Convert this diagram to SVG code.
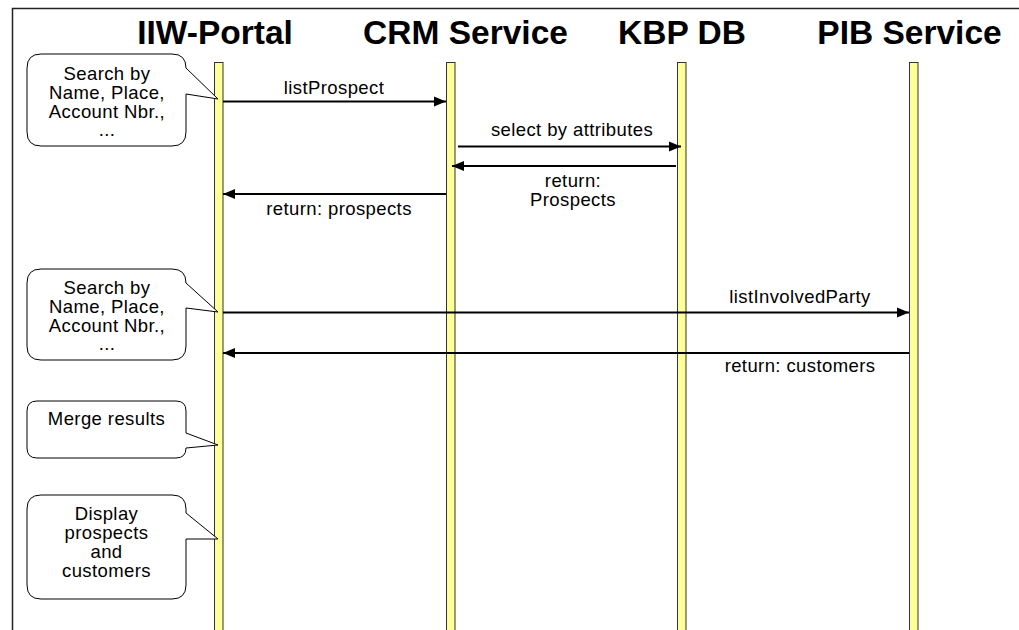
<svg xmlns="http://www.w3.org/2000/svg" width="1019" height="630" viewBox="0 0 1019 630">
<style>
.title{font-family:"Liberation Sans",Arial,sans-serif;font-weight:bold;font-size:33.5px;text-anchor:middle;fill:#000}
.lbl{font-family:"Liberation Sans",Arial,sans-serif;font-size:18.5px;letter-spacing:0.4px;text-anchor:middle;fill:#000}
.life{fill:#ffff99;stroke:#333;stroke-width:1}
.call{fill:#fff;stroke:#000;stroke-width:1}
.msg{stroke:#000;stroke-width:2;fill:none;marker-end:url(#ah)}
.frame{stroke:#222;stroke-width:1.5;fill:none}
</style>
<defs>
<marker id="ah" markerUnits="userSpaceOnUse" markerWidth="13" markerHeight="11" refX="12" refY="5.5" orient="auto">
<path d="M0,0.5 L12,5.5 L0,10.5 Z" fill="#000"/>
</marker>
</defs>
<rect width="1019" height="630" fill="#fff"/>
<path class="frame" d="M12.5,630 V8.5 H1019"/>
<g id="iiw-portal">
<text class="title" x="215" y="43.5">IIW-Portal</text>
<rect class="life" x="214.5" y="62.5" width="8.5" height="580"/>
</g>
<g id="crm-service">
<text class="title" x="465.5" y="43.5">CRM Service</text>
<rect class="life" x="446.5" y="62.5" width="8.5" height="580"/>
</g>
<g id="kbp-db">
<text class="title" x="682" y="43.5">KBP DB</text>
<rect class="life" x="677.5" y="62.5" width="8.5" height="580"/>
</g>
<g id="pib-service">
<text class="title" x="909.5" y="43.5">PIB Service</text>
<rect class="life" x="909.5" y="62.5" width="8.5" height="580"/>
</g>
<g id="note-search-1">
<path class="call" d="M41,54 H172 Q186,54 186,68 L218,99 L186,94 V132 Q186,146 172,146 H41 Q27,146 27,132 V68 Q27,54 41,54 Z"/>
<text class="lbl" x="107" y="80">Search by</text>
<text class="lbl" x="107" y="99">Name, Place,</text>
<text class="lbl" x="107" y="117.5">Account Nbr.,</text>
<text class="lbl" x="107" y="136">...</text>
</g>
<g id="note-search-2">
<path class="call" d="M41,269 H172 Q186,269 186,283 L218,312 L186,308 V346 Q186,360 172,360 H41 Q27,360 27,346 V283 Q27,269 41,269 Z"/>
<text class="lbl" x="107" y="294">Search by</text>
<text class="lbl" x="107" y="313">Name, Place,</text>
<text class="lbl" x="107" y="331.5">Account Nbr.,</text>
<text class="lbl" x="107" y="350">...</text>
</g>
<g id="note-merge">
<path class="call" d="M37,401 H176 Q186,401 186,411 V433 L218,445 L186,448 Q186,458 176,458 H37 Q27,458 27,448 V411 Q27,401 37,401 Z"/>
<text class="lbl" x="106.5" y="425">Merge results</text>
</g>
<g id="note-display">
<path class="call" d="M41,495 H172 Q186,495 186,509 V513 L218,539 L186,539 V585 Q186,599 172,599 H41 Q27,599 27,585 V509 Q27,495 41,495 Z"/>
<text class="lbl" x="106.5" y="520">Display</text>
<text class="lbl" x="106.5" y="539">prospects</text>
<text class="lbl" x="106.5" y="558">and</text>
<text class="lbl" x="106.5" y="577">customers</text>
</g>
<g id="connectors">
<line class="msg" x1="223" y1="101.5" x2="446" y2="101.5"/>
<text class="lbl" x="334" y="94">listProspect</text>
<line class="msg" x1="458" y1="146.5" x2="681" y2="146.5"/>
<text class="lbl" x="572" y="136">select by attributes</text>
<line class="msg" x1="676" y1="166" x2="452" y2="166"/>
<text class="lbl" x="573" y="187">return:</text>
<text class="lbl" x="573" y="206">Prospects</text>
<line class="msg" x1="446" y1="194" x2="223" y2="194"/>
<text class="lbl" x="339" y="215">return: prospects</text>
<line class="msg" x1="223" y1="312.5" x2="909" y2="312.5"/>
<text class="lbl" x="800" y="303">listInvolvedParty</text>
<line class="msg" x1="909" y1="353" x2="223" y2="353"/>
<text class="lbl" x="800" y="372">return: customers</text>
</g>
</svg>
